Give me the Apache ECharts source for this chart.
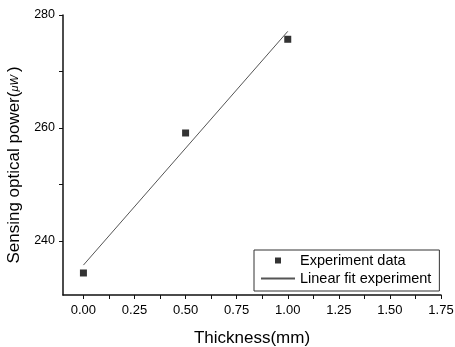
<!DOCTYPE html>
<html>
<head>
<meta charset="utf-8">
<script src="https://cdn.jsdelivr.net/npm/echarts@6/dist/echarts.min.js"></script>
<style>
  html, body { margin: 0; padding: 0; background: #fff; }
  #chart { width: 455px; height: 347px; }
</style>
</head>
<body>
<div id="chart"></div>
<script>
// measured points
var thickness = [0, 0.5, 1.0];
var power = [234.3, 259.1, 275.7];
// linear fit, drawn between the first and last thickness
var fitX = [0, 1.0];
var fitY = [235.7, 277.1];
// tick values (labelled and unlabelled)
var xLabels = [0, 0.25, 0.5, 0.75, 1.0, 1.25, 1.5, 1.75];
var xTicks = [0, 0.125, 0.25, 0.375, 0.5, 0.625, 0.75, 0.875, 1.0, 1.125, 1.25, 1.375, 1.5, 1.625, 1.75];
var yLabels = [240, 260, 280];
var yTicks = [240, 250, 260, 270, 280];

var font = '"Liberation Sans", Arial, sans-serif';

var chart = echarts.init(document.getElementById('chart'));

var dataPts = thickness.map(function (t, i) { return [t, power[i]]; });
var fitPts = fitX.map(function (t, i) { return [t, fitY[i]]; });

var option = {
  animation: false,
  backgroundColor: '#fff',
  grid: { left: 63, top: 15, right: 14, bottom: 52, containLabel: false, outerBoundsMode: 'none' },
  xAxis: {
    type: 'value',
    min: -0.1,
    max: 1.75,
    name: 'Thickness(mm)',
    nameLocation: 'middle',
    nameGap: 35,
    nameTextStyle: { fontFamily: font, fontSize: 17, color: '#000' },
    axisLine: { onZero: false, lineStyle: { color: '#111', width: 1.5 } },
    axisTick: { customValues: xTicks, length: 4, lineStyle: { color: '#111' } },
    axisLabel: {
      customValues: xLabels,
      fontFamily: font, fontSize: 13, color: '#000', margin: 9,
      formatter: function (v) { return v.toFixed(2); }
    },
    splitLine: { show: false }
  },
  yAxis: {
    type: 'value',
    min: 230.4,
    max: 280,
    name: '{a|Sensing optical power(}{b|μW }{a|)}',
    nameLocation: 'middle',
    nameGap: 30,
    nameTextStyle: {
      padding: [0, 20, 0, 0],
      rich: {
        a: { fontFamily: font, fontSize: 17, color: '#000' },
        b: { fontFamily: font, fontSize: 11, fontStyle: 'italic', color: '#000' }
      }
    },
    axisLine: { show: true, onZero: false, lineStyle: { color: '#111', width: 1.5 } },
    axisTick: { show: true, customValues: yTicks, length: 4, lineStyle: { color: '#111' } },
    axisLabel: {
      customValues: yLabels,
      fontFamily: font, fontSize: 12.5, color: '#000', margin: 8
    },
    splitLine: { show: false }
  },
  legend: {
    left: 254,
    top: 250,
    orient: 'vertical',
    itemGap: 3,
    itemWidth: 34,
    itemHeight: 10,
    padding: [3, 8, 5, 6],
    borderColor: '#333',
    borderWidth: 1,
    textStyle: { fontFamily: font, fontSize: 14.5, color: '#000' },
    data: [
      { name: 'Experiment data', icon: 'path://M0,0 L0,0 Z M14,2 L20,2 L20,8 L14,8 Z M34,10 L34,10 Z' },
      { name: 'Linear fit experiment', itemStyle: { opacity: 0 } }
    ]
  },
  series: [
    {
      name: 'Experiment data',
      type: 'scatter',
      symbol: 'rect',
      symbolSize: 7,
      itemStyle: { color: '#000' },
      data: dataPts,
      z: 3
    },
    {
      name: 'Linear fit experiment',
      type: 'line',
      symbol: 'none',
      lineStyle: { color: '#555', width: 1 },
      itemStyle: { color: '#555' },
      data: fitPts
    }
  ]
};

chart.setOption(option);
</script>
</body>
</html>
